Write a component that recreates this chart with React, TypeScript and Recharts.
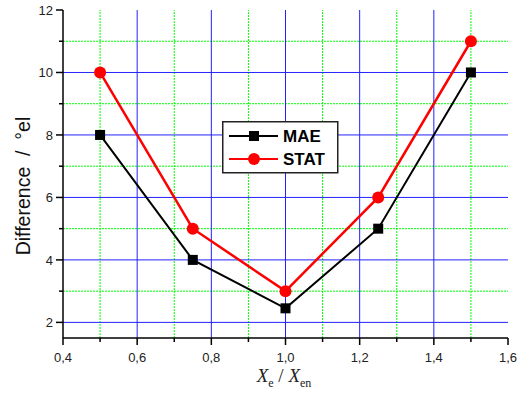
import { LineChart, Line, XAxis, YAxis, ReferenceLine, Legend } from "recharts"

const xValues = [0.5, 0.75, 1.0, 1.25, 1.5]
const maeValues = [8, 4, 2.45, 5, 10]
const statValues = [10, 5, 3, 6, 11]

const xMajor = [0.4, 0.6, 0.8, 1.0, 1.2, 1.4, 1.6]
const xMinor = [0.5, 0.7, 0.9, 1.1, 1.3, 1.5]
const yMajor = [2, 4, 6, 8, 10, 12]
const yMinor = [3, 5, 7, 9, 11]

const series = [
  { key: "MAE", color: "#000000", marker: "square" },
  { key: "STAT", color: "#ff0000", marker: "circle" },
]

const data = xValues.map((x, i) => ({ x, MAE: maeValues[i], STAT: statValues[i] }))

const xTicks = [...xMajor, ...xMinor].sort((a, b) => a - b)
const yTicks = [...yMajor, ...yMinor].sort((a, b) => a - b)

const isMajor = (v: number, list: number[]) => list.some((m) => Math.abs(m - v) < 1e-6)
const fmt = (v: number) => v.toFixed(1).replace(".", ",")

const tickFont = { fontFamily: "Liberation Sans, Arial", fontSize: 13, fill: "#222" }

function BottomTick(props: any) {
  const { x, y, payload } = props
  const major = isMajor(payload.value, xMajor)
  return (
    <g>
      <line x1={x} x2={x} y1={y} y2={y + (major ? 7 : 4)} stroke="#000" strokeWidth={1.5} />
      {major && (
        <text x={x} y={y + 24} textAnchor="middle" {...tickFont}>
          {fmt(payload.value)}
        </text>
      )}
    </g>
  )
}

function TopTick(props: any) {
  const { x, y, payload } = props
  const major = isMajor(payload.value, xMajor)
  return <line x1={x} x2={x} y1={y} y2={y - (major ? 6 : 4)} stroke="#444" strokeWidth={1.2} />
}

function LeftTick(props: any) {
  const { x, y, payload } = props
  const major = isMajor(payload.value, yMajor)
  return (
    <g>
      <line x1={x - (major ? 7 : 4)} x2={x} y1={y} y2={y} stroke="#000" strokeWidth={1.5} />
      {major && (
        <text x={x - 10} y={y + 5} textAnchor="end" {...tickFont}>
          {payload.value}
        </text>
      )}
    </g>
  )
}

function RightTick(props: any) {
  const { x, y, payload } = props
  const major = isMajor(payload.value, yMajor)
  return <line x1={x} x2={x + (major ? 6 : 4)} y1={y} y2={y} stroke="#444" strokeWidth={1.2} />
}

const SquareDot = (props: any) => {
  const { cx, cy, index } = props
  return <rect key={"sq" + index} x={cx - 5} y={cy - 5} width={10} height={10} fill="#000" />
}

const CircleDot = (props: any) => {
  const { cx, cy, index } = props
  return <circle key={"ci" + index} cx={cx} cy={cy} r={6} fill="#ff0000" />
}

function LegendBox() {
  return (
    <svg width={117} height={53} style={{ display: "block" }}>
      <rect x={0.75} y={0.75} width={115} height={51} fill="#fff" stroke="#222" strokeWidth={1.5} />
      {series.map((s, i) => {
        const cy = 15 + i * 23
        return (
          <g key={s.key}>
            <line x1={7} x2={56} y1={cy} y2={cy} stroke={s.color} strokeWidth={2} />
            {s.marker === "square" ? (
              <rect x={27} y={cy - 5} width={10} height={10} fill={s.color} />
            ) : (
              <circle cx={32} cy={cy} r={6} fill={s.color} />
            )}
            <text x={61} y={cy + 6} fontFamily="Liberation Sans, Arial" fontWeight="bold" fontSize={17} fill="#000">
              {s.key}
            </text>
          </g>
        )
      })}
    </svg>
  )
}

export default function App() {
  return (
    <div style={{ position: "absolute", left: 0, top: 0, background: "#fff" }}>
      <LineChart width={524} height={396} data={data} margin={{ top: 10, right: 16, bottom: 0, left: 0 }}>
        <XAxis
          dataKey="x"
          type="number"
          domain={[0.4, 1.6]}
          ticks={xTicks}
          allowDataOverflow
          height={58}
          tickSize={0}
          tickMargin={0}
          tick={<BottomTick />}
          axisLine={{ stroke: "#000", strokeWidth: 1.5 }}
          interval={0}
          label={() => (
            <text x={284} y={382} textAnchor="middle" fontFamily="Liberation Serif, Times New Roman" fontSize={19} fill="#222" style={{ whiteSpace: "pre" }}>
              <tspan fontStyle="italic">X</tspan>
              <tspan fontSize={12} dy={5}>e</tspan>
              <tspan dy={-5}> / </tspan>
              <tspan fontStyle="italic">X</tspan>
              <tspan fontSize={12} dy={5}>en</tspan>
            </text>
          )}
        />
        <XAxis
          xAxisId="top"
          orientation="top"
          dataKey="x"
          type="number"
          domain={[0.4, 1.6]}
          ticks={xTicks}
          allowDataOverflow
          height={0}
          tickSize={0}
          tickMargin={0}
          tick={<TopTick />}
          interval={0}
          axisLine={{ stroke: "#222", strokeWidth: 1.5 }}
        />
        <YAxis
          type="number"
          domain={[1.5, 12]}
          ticks={yTicks}
          allowDataOverflow
          width={63}
          tickSize={0}
          tickMargin={0}
          tick={<LeftTick />}
          interval={0}
          axisLine={{ stroke: "#000", strokeWidth: 1.5 }}
          label={() => (
            <text x={30} y={186} transform="rotate(-90 30 186)" textAnchor="middle" fontFamily="Liberation Sans, Arial" fontSize={19.5} fill="#111" style={{ whiteSpace: "pre" }}>
              {"Difference  /  °el"}
            </text>
          )}
        />
        <YAxis
          yAxisId="right"
          orientation="right"
          type="number"
          domain={[1.5, 12]}
          ticks={yTicks}
          allowDataOverflow
          width={0}
          tickSize={0}
          tickMargin={0}
          tick={<RightTick />}
          interval={0}
          axisLine={{ stroke: "#222", strokeWidth: 1.5 }}
        />
        {xMinor.map((v) => (
          <ReferenceLine key={"xm" + v} x={v} stroke="#00ff00" strokeWidth={1} strokeDasharray="2 1" />
        ))}
        {yMinor.map((v) => (
          <ReferenceLine key={"ym" + v} y={v} stroke="#00ff00" strokeWidth={1} strokeDasharray="2 1" />
        ))}
        {xMajor.slice(1, -1).map((v) => (
          <ReferenceLine key={"xM" + v} x={v} stroke="#2222ff" strokeWidth={1} />
        ))}
        {yMajor.slice(0, -1).map((v) => (
          <ReferenceLine key={"yM" + v} y={v} stroke="#2222ff" strokeWidth={1} />
        ))}
        <Legend
          layout="vertical"
          align="center"
          verticalAlign="middle"
          wrapperStyle={{ position: "absolute", left: 222, top: 121, width: 117 }}
          content={() => <LegendBox />}
        />
        <Line dataKey="MAE" stroke="#000" strokeWidth={2} dot={SquareDot} isAnimationActive={false} />
        <Line dataKey="STAT" stroke="#ff0000" strokeWidth={2.5} dot={CircleDot} isAnimationActive={false} />
      </LineChart>
    </div>
  )
}
